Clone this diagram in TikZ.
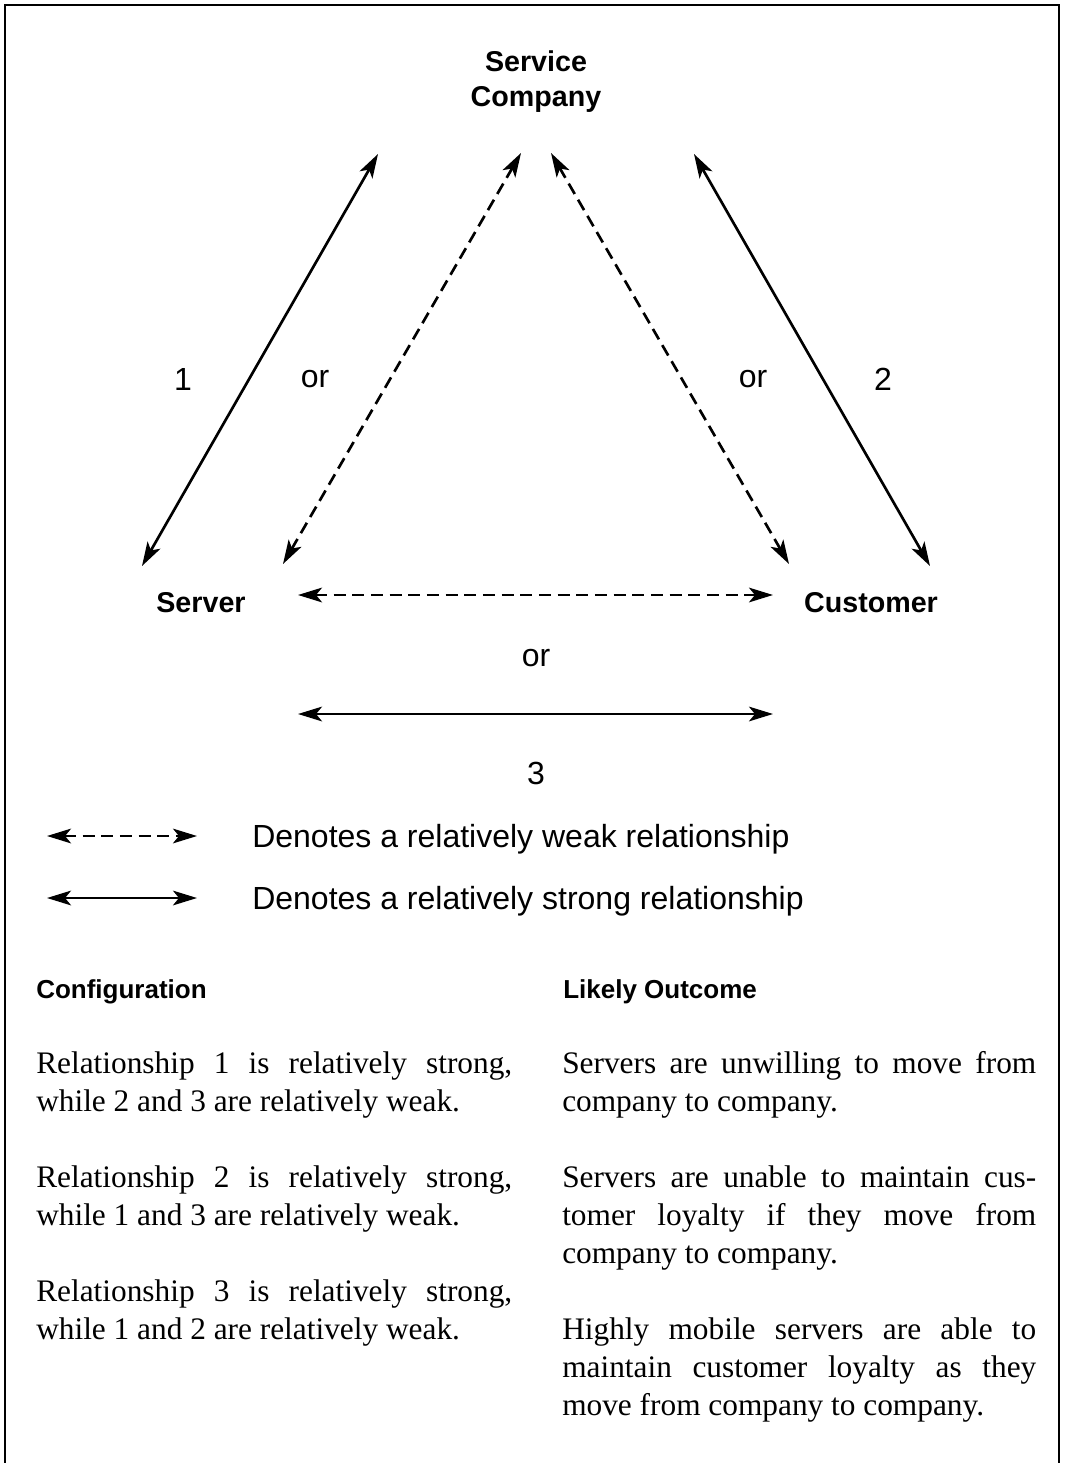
\documentclass[tikz,border=0pt]{standalone}
\usepackage{fontspec}
\setmainfont{Liberation Serif}
\setsansfont{Liberation Sans}
\usetikzlibrary{arrows.meta}
\begin{document}
\begin{tikzpicture}[x=0.75pt,y=-0.75pt,
  lbl/.style={font=\sffamily\bfseries\fontsize{21.5}{25.5}\selectfont, inner sep=0pt, align=center},
  hdr/.style={font=\sffamily\bfseries\fontsize{19.5}{23}\selectfont, inner sep=0pt, anchor=base west},
  num/.style={font=\sffamily\fontsize{24}{28}\selectfont, inner sep=0pt},
  para/.style={font=\rmfamily\fontsize{23.5}{28.5}\selectfont, text width=#1*0.75pt, align=justify,
    inner sep=0pt, anchor=base west,
    execute at begin node={\tolerance=10000\hyphenpenalty=10000\relax}},
  tip/.tip={Stealth[length=18pt,width=11pt,inset=4.5pt]},
  strongrel/.style={line width=2pt, tip-tip},
  weakrel/.style={strongrel, dash pattern=on 9pt off 5pt}]
\useasboundingbox (0,0) rectangle (1065,1463);
% frame (open at the bottom)
\draw[line width=2.2pt] (5,1463) -- (5,5) -- (1059,5) -- (1059,1463);

% actors
\node[lbl, anchor=base] (company) at (536,106) {Service\\Company};
\node[lbl, anchor=base] (server) at (201,612) {Server};
\node[lbl, anchor=base] (customer) at (871,612) {Customer};

% arrow end points
\coordinate (s1top) at (378,154);  \coordinate (s1bot) at (142,566);
\coordinate (w1top) at (521,153);  \coordinate (w1bot) at (283,564);
\coordinate (w2top) at (551,153);  \coordinate (w2bot) at (789,564);
\coordinate (s2top) at (694,154);  \coordinate (s2bot) at (930,566);
\coordinate (w3l) at (298,595);    \coordinate (w3r) at (773,595);
\coordinate (s3l) at (298,714);    \coordinate (s3r) at (773,714);

\draw[strongrel] (s1bot) -- (s1top);
\draw[weakrel] (w1bot) -- (w1top);
\draw[weakrel] (w2bot) -- (w2top);
\draw[strongrel] (s2bot) -- (s2top);
\draw[weakrel] (w3l) -- (w3r);
\draw[strongrel] (s3l) -- (s3r);

\node[num] (n1) at (183,379) {1};
\node[num] (or1) at (315,379) {or};
\node[num] (or2) at (753,379) {or};
\node[num] (n2) at (883,379) {2};
\node[num] (or3) at (536,658) {or};
\node[num] (n3) at (536,773) {3};

% legend
\coordinate (lw1) at (47,836); \coordinate (lw2) at (197,836);
\coordinate (ls1) at (47,898); \coordinate (ls2) at (197,898);
\draw[weakrel] (lw1) -- (lw2);
\draw[strongrel] (ls1) -- (ls2);
\node[num, anchor=base west] (weaktxt) at (252,847) {Denotes a relatively weak relationship};
\node[num, anchor=base west] (strongtxt) at (252,909) {Denotes a relatively strong relationship};

% table
\node[hdr] (cfg) at (36,998) {Configuration};
\node[hdr] (out) at (563,998) {Likely Outcome};

\node[para=476] (c1) at (36,1073) {Relationship 1 is relatively strong,\linebreak while 2 and 3 are relatively weak.};
\node[para=476] (c2) at (36,1187) {Relationship 2 is relatively strong,\linebreak while 1 and 3 are relatively weak.};
\node[para=476] (c3) at (36,1301) {Relationship 3 is relatively strong,\linebreak while 1 and 2 are relatively weak.};

\node[para=474] (o1) at (562,1073) {Servers are unwilling to move from\linebreak company to company.};
\node[para=474] (o2) at (562,1187) {Servers are unable to maintain cus-\linebreak tomer loyalty if they move from\linebreak company to company.};
\node[para=474] (o3) at (562,1339) {Highly mobile servers are able to\linebreak maintain customer loyalty as they\linebreak move from company to company.};
\end{tikzpicture}
\end{document}
